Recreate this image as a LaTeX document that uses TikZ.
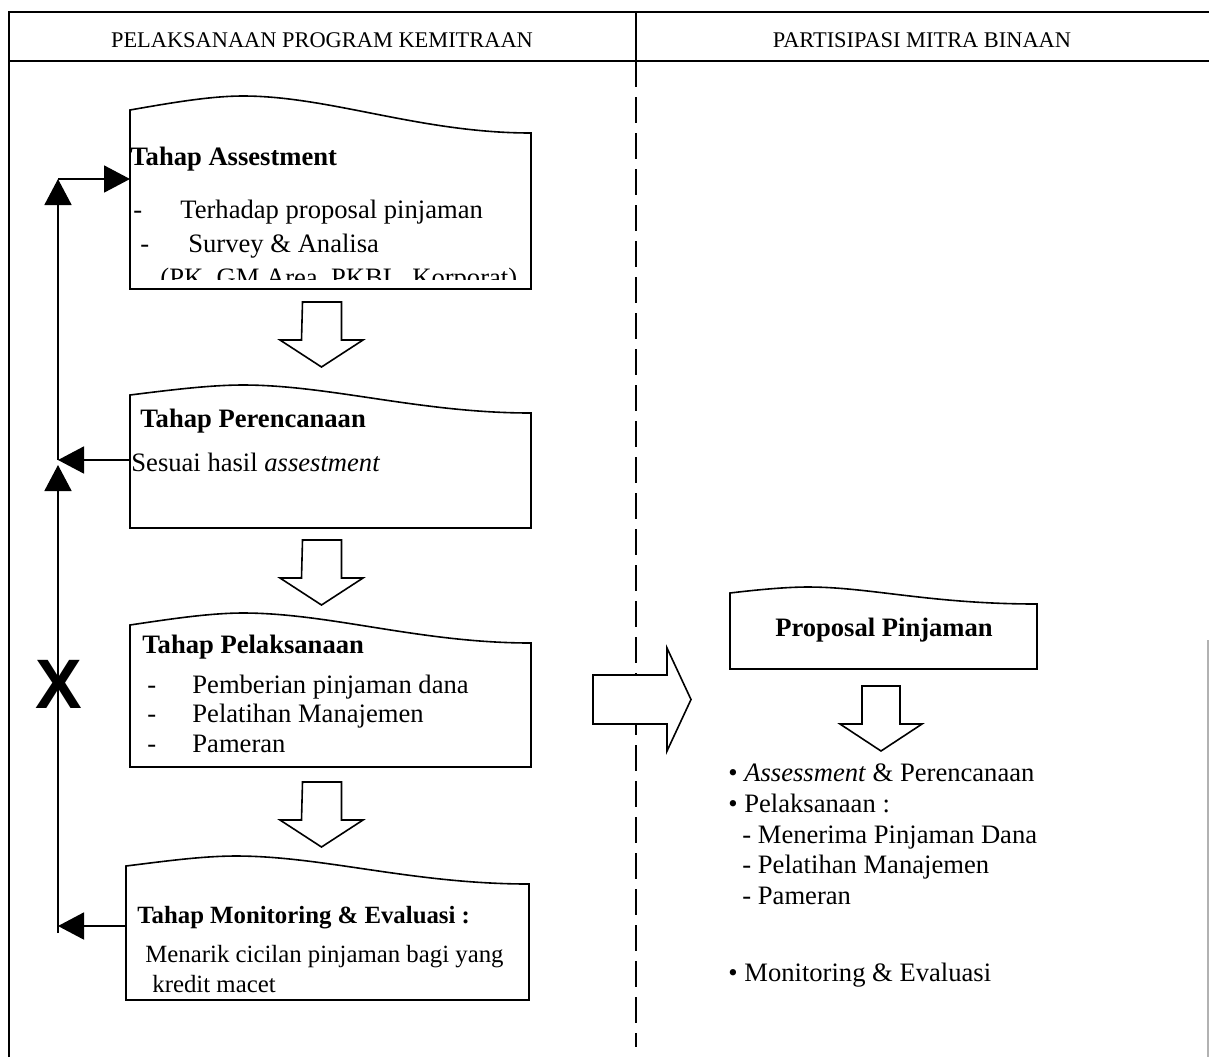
\documentclass[tikz,border=0pt]{standalone}
\usepackage{fontspec}
\setmainfont{Liberation Serif}
\newfontfamily\xfont{Liberation Sans}
\usetikzlibrary{arrows.meta}
\newcommand{\bodyfont}{\fontsize{13.3}{16}\selectfont}
\newcommand{\smallbody}{\fontsize{12.4}{15}\selectfont}

\begin{document}
\begin{tikzpicture}[x=0.5pt,y=-0.5pt,
  frame/.style={line width=1pt},
  doc/.style={draw,line width=0.8pt},
  blk/.style={draw,line width=0.8pt,fill=white},
  fb/.style={line width=0.9pt,-{Triangle[length=13pt,width=13.5pt]}},
  txt/.style={anchor=base west,inner sep=0,font=\bodyfont},
  ttl/.style={txt,font=\bodyfont\bfseries},
  hdr/.style={anchor=base,inner sep=0,font=\fontsize{11.2}{14}\selectfont}]
 \useasboundingbox (0,0) rectangle (1209,1057);
 % frame and lanes
 \draw[frame] (9,1057) -- (9,12) -- (1209,12);
 \draw[frame] (9,61) -- (1209,61);
 \draw[frame] (636,12) -- (636,61);
 \draw[frame,dash pattern=on 13pt off 5pt] (636,61) -- (636,1047);
 \draw[gray!60,line width=0.6pt] (1208,640) -- (1208,1057);
 \node[hdr] (hdrL) at (322,47) {PELAKSANAAN PROGRAM KEMITRAAN};
 \node[hdr] (hdrR) at (922,47) {PARTISIPASI MITRA BINAAN};
 % tahap assestment
 \draw[doc] (130,289) -- (130,110) .. controls (170,103) and (210,96) .. (243,96)
   .. controls (330,96) and (420,133) .. (531,133) -- (531,289) -- cycle;
 \node[ttl] (as0) at (130,165) {Tahap Assestment};
 \node[txt] (as1d) at (133,218) {-}; \node[txt] (as1) at (180,218) {Terhadap proposal pinjaman};
 \node[txt] (as2d) at (140,252) {-}; \node[txt] (as2) at (188,252) {Survey \& Analisa};
 \begin{scope}
  \clip (130,255) rectangle (531,279);
  \node[txt] (as3) at (160,286) {(PK, GM Area, PKBL, Korporat)};
 \end{scope}
 \draw[blk] (302.5,302) -- ++(39,0) -- ++(0,38) -- ++(21.5,0) -- ++(-41.5,27) -- ++(-41.5,-27) -- ++(21.5,0) -- cycle;
 % tahap perencanaan
 \draw[doc] (130,528) -- (130,395) .. controls (170,390) and (210,385) .. (243,385)
   .. controls (330,385) and (420,413) .. (531,413) -- (531,528) -- cycle;
 \node[ttl] (pe0) at (140,427) {Tahap Perencanaan};
 \node[txt] (pe1) at (131,471) {Sesuai hasil \textit{assestment}};
 \draw[blk] (302.5,540) -- ++(39,0) -- ++(0,38) -- ++(21.5,0) -- ++(-41.5,27) -- ++(-41.5,-27) -- ++(21.5,0) -- cycle;
 % tahap pelaksanaan
 \draw[doc] (130,767) -- (130,625) .. controls (170,619) and (210,613) .. (243,613)
   .. controls (330,613) and (420,643) .. (531,643) -- (531,767) -- cycle;
 \node[ttl] (pl0) at (142,653) {Tahap Pelaksanaan};
 \node[txt] (pl1d) at (147,693) {-}; \node[txt] (pl1) at (192,693) {Pemberian pinjaman dana};
 \node[txt] (pl2d) at (147,722) {-}; \node[txt] (pl2) at (192,722) {Pelatihan Manajemen};
 \node[txt] (pl3d) at (147,752) {-}; \node[txt] (pl3) at (192,752) {Pameran};
 \draw[blk] (302.5,782) -- ++(39,0) -- ++(0,38) -- ++(21.5,0) -- ++(-41.5,27) -- ++(-41.5,-27) -- ++(21.5,0) -- cycle;
 % tahap monitoring
 \draw[doc] (126,1000) -- (126,866) .. controls (166,861) and (203,856) .. (236,856)
   .. controls (323,856) and (413,884) .. (529,884) -- (529,1000) -- cycle;
 \node[ttl,font=\smallbody\bfseries] (mo0) at (137,923) {Tahap Monitoring \& Evaluasi :};
 \node[txt,font=\smallbody] (mo1) at (145,962) {Menarik cicilan pinjaman bagi yang};
 \node[txt,font=\smallbody] (mo2) at (152,992) {kredit macet};
 % feedback loop
 \coordinate (lpTop) at (58,179);
 \coordinate (lpMid) at (58,460);
 \coordinate (lpMon) at (58,926);
 \coordinate (lpBot) at (58,933);
 \coordinate (asIn) at (130,179);
 \coordinate (peOut) at (130,460);
 \coordinate (moOut) at (126,926);
 \draw[fb] (lpMid) -- (lpTop);
 \draw[fb] (lpTop) -- (asIn);
 \draw[fb] (peOut) -- (lpMid);
 \draw[fb] (lpBot) -- ([yshift=-2.5pt]lpMid);
 \draw[fb] (moOut) -- (lpMon);
 \node[font=\xfont\bfseries\fontsize{35}{35}\selectfont,inner sep=0] (xmark) at (59,684) {X};
 % mitra binaan
 \draw[blk] (593,675) -- (667,675) -- (667,648) -- (691,699.5) -- (667,751) -- (667,724) -- (593,724) -- cycle;
 \draw[doc] (730,669) -- (730,593) .. controls (755,590) and (785,587) .. (808,587)
   .. controls (870,587) and (930,604) .. (1037,604) -- (1037,669) -- cycle;
 \node[anchor=base,inner sep=0,font=\bodyfont\bfseries] (prop) at (884,636) {Proposal Pinjaman};
 \draw[blk] (862,686) -- ++(38,0) -- ++(0,38) -- ++(22,0) -- ++(-41,27) -- ++(-41,-27) -- ++(22,0) -- cycle;
 \node[txt] (mb1) at (728,781) {\textbullet{} \textit{Assessment} \& Perencanaan};
 \node[txt] (mb2) at (728,812) {\textbullet{} Pelaksanaan :};
 \node[txt] (mb3) at (742,843) {- Menerima Pinjaman Dana};
 \node[txt] (mb4) at (742,873) {- Pelatihan Manajemen};
 \node[txt] (mb5) at (742,904) {- Pameran};
 \node[txt] (mb6) at (728,981) {\textbullet{} Monitoring \& Evaluasi};
\end{tikzpicture}
\end{document}
